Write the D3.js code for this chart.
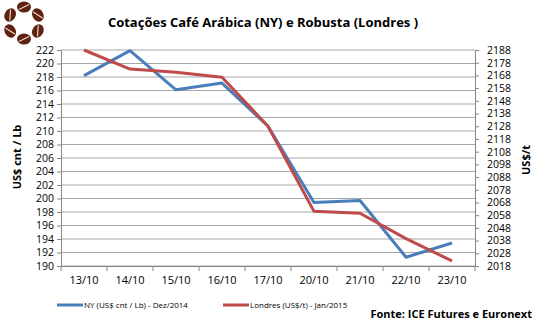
<!DOCTYPE html>
<html>
<head>
<meta charset="utf-8">
<script src="https://cdn.jsdelivr.net/npm/d3@7"></script>
<style>
  body { margin: 0; background: #fff; }
  svg { display: block; font-family: "Open Sans", "Noto Sans", sans-serif; }
</style>
</head>
<body>
<svg id="chart" width="535" height="323"></svg>
<script>
// data
const dates = ['13/10', '14/10', '15/10', '16/10', '17/10', '20/10', '21/10', '22/10', '23/10'];
const nyValues = [218.2, 221.9, 216.1, 217.1, 210.7, 199.4, 199.7, 191.3, 193.4];
const londonValues = [2188, 2173, 2170.5, 2166.5, 2128, 2061, 2059.5, 2039.5, 2022];
const leftTicks = d3.range(190, 223, 2);
const rightTicks = d3.range(2018, 2189, 10);

const svg = d3.select('#chart');
const plotLeft = 61, plotRight = 475, plotTop = 50, plotBottom = 266;

const x = d3.scaleBand().domain(dates).range([plotLeft, plotRight]);
const yL = d3.scaleLinear().domain([190, 222]).range([plotBottom, plotTop]);
const yR = d3.scaleLinear().domain([2018, 2188]).range([plotBottom, plotTop]);

// gridlines
svg.append('g')
    .selectAll('line')
    .data(leftTicks)
    .enter()
    .append('line')
    .attr('x1', plotLeft)
    .attr('x2', plotRight)
    .attr('y1', d => yL(d))
    .attr('y2', d => yL(d))
    .attr('stroke', '#a6a6a6')
    .attr('stroke-width', 1);

// axes
const axL = svg.append('g')
    .attr('transform', `translate(${plotLeft},0)`)
    .call(d3.axisLeft(yL).tickValues(leftTicks).tickSize(4).tickPadding(3));
const axR = svg.append('g')
    .attr('transform', `translate(${plotRight},0)`)
    .call(d3.axisRight(yR).tickValues(rightTicks).tickFormat(d3.format('d')).tickSize(4).tickPadding(8));
const axB = svg.append('g')
    .attr('transform', `translate(0,${plotBottom})`)
    .call(d3.axisBottom(x).tickSize(0).tickPadding(10));

[axL, axR, axB].forEach(ax => {
    ax.select('.domain').attr('stroke', '#868686');
    ax.selectAll('.tick line').attr('stroke', '#868686');
    ax.selectAll('text')
        .attr('fill', '#000')
        .style('font-family', '"Open Sans", sans-serif')
        .style('font-size', '10.5px');
});
axB.selectAll('text').style('font-size', '11px');

// bottom boundary ticks between categories
const bounds = dates.map(d => x(d)).concat([plotRight]);
svg.append('g')
    .selectAll('line')
    .data(bounds)
    .enter()
    .append('line')
    .attr('x1', d => d)
    .attr('x2', d => d)
    .attr('y1', plotBottom)
    .attr('y2', plotBottom + 5)
    .attr('stroke', '#868686');

// series
const cx = d => x(d) + x.bandwidth() / 2;
const nyLine = d3.line().x((d, i) => cx(dates[i])).y(d => yL(d));
const ldLine = d3.line().x((d, i) => cx(dates[i])).y(d => yR(d));

svg.append('path')
    .datum(nyValues)
    .attr('d', nyLine)
    .attr('fill', 'none')
    .attr('stroke', '#4a7ebb')
    .attr('stroke-width', 3)
    .attr('stroke-linejoin', 'round');

svg.append('path')
    .datum(londonValues)
    .attr('d', ldLine)
    .attr('fill', 'none')
    .attr('stroke', '#be4b48')
    .attr('stroke-width', 3)
    .attr('stroke-linejoin', 'round');

// title
svg.append('text')
    .attr('x', 263)
    .attr('y', 27)
    .attr('text-anchor', 'middle')
    .attr('font-weight', 'bold')
    .attr('font-size', '13px')
    .text('Cotações Café Arábica (NY) e Robusta (Londres )');

// axis titles
svg.append('text')
    .attr('transform', 'translate(21,157) rotate(-90)')
    .attr('text-anchor', 'middle')
    .attr('font-weight', 'bold')
    .attr('font-size', '11px')
    .text('US$ cnt / Lb');

svg.append('text')
    .attr('transform', 'translate(530,160) rotate(-90)')
    .attr('text-anchor', 'middle')
    .attr('font-weight', 'bold')
    .attr('font-size', '11px')
    .text('US$/t');

// legend
const legend = [
    { label: 'NY (US$ cnt / Lb) - Dez/2014', color: '#4a7ebb', x: 57 },
    { label: 'Londres (US$/t) - Jan/2015', color: '#be4b48', x: 223 }
];
legend.forEach(l => {
    svg.append('line')
        .attr('x1', l.x)
        .attr('x2', l.x + 26)
        .attr('y1', 305)
        .attr('y2', 305)
        .attr('stroke', l.color)
        .attr('stroke-width', 3);
    svg.append('text')
        .attr('x', l.x + 27)
        .attr('y', 308)
        .attr('font-size', '8px')
        .text(l.label);
});

svg.append('text')
    .attr('x', 532)
    .attr('y', 318)
    .attr('text-anchor', 'end')
    .attr('font-weight', 'bold')
    .attr('font-size', '11px')
    .text('Fonte: ICE Futures e Euronext');

// logo: ring of coffee beans
const beanColor = '#5e2212';
const logo = svg.append('g').attr('transform', 'translate(24,23)');
d3.range(6).forEach(i => {
    const a = i * 60 - 90;
    const g = logo.append('g')
        .attr('transform', `rotate(${a}) translate(16,0) rotate(90)`);
    g.append('ellipse')
        .attr('rx', 7)
        .attr('ry', 5.5)
        .attr('fill', beanColor);
    g.append('line')
        .attr('x1', -5)
        .attr('x2', 5)
        .attr('y1', 2.5)
        .attr('y2', -2.5)
        .attr('stroke', '#e9d9c4')
        .attr('stroke-width', 1.2);
});
</script>
</body>
</html>
